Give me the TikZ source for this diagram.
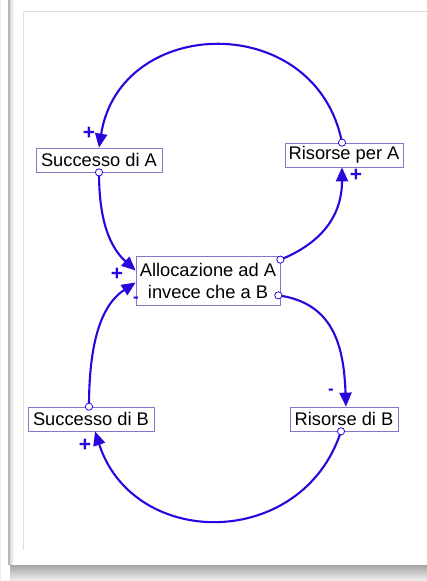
\documentclass[tikz,border=0pt]{standalone}
\usepackage{fontspec}
\setmainfont{Liberation Sans}
\usetikzlibrary{arrows.meta}
\definecolor{lnk}{RGB}{38,8,222}
\definecolor{bx}{RGB}{128,120,200}
\begin{document}
\begin{tikzpicture}[x=1pt,y=1pt,
  var/.style={draw=bx,line width=0.7pt,fill=white,inner sep=0pt,minimum height=24pt,
    font=\fontsize{18.3}{22}\selectfont,align=center},
  link/.style={draw=lnk,line width=2.1pt,-{Triangle[length=14pt,width=12pt]}},
  ring/.style={draw=lnk,line width=0.8pt,fill=white},
  sgn/.style={text=lnk,inner sep=0pt,font=\fontsize{21}{21}\selectfont\bfseries},
  sgnm/.style={text=lnk,inner sep=0pt,font=\fontsize{17}{17}\selectfont\bfseries}]
\useasboundingbox (0,0) rectangle (427,581);
% frame
\fill[white] (0,0) rectangle (427,581);
\shade[top color=gray!75,bottom color=gray!10] (10,0) rectangle (427,17);
\fill[white] (10,16) rectangle (427,581);
\fill[gray!55] (8,16) rectangle (10.5,581);
\shade[left color=gray!25,right color=white] (10.5,16) rectangle (14,581);
\draw[gray!25,line width=1pt] (23,31) -- (23,569) -- (428,569);
\draw[gray!12,line width=0.6pt] (0.5,0) -- (0.5,581);
% nodes
\node[var,minimum width=126pt] (SA) at (99,421) {Successo di A};
\node[var,minimum width=118pt] (RA) at (344,426) {Risorse per A};
\node[var,minimum width=144pt,minimum height=49pt] (AL) at (208,300.5) {Allocazione ad A\\invece che a B};
\node[var,minimum width=126pt] (SB) at (91,162) {Successo di B};
\node[var,minimum width=108pt] (RB) at (344,162) {Risorse di B};
% starting points
\coordinate (sRA) at ([xshift=-2pt]RA.north);
\coordinate (sSA) at (SA.south);
\coordinate (sAL1) at ([yshift=-4pt]AL.north east);
\coordinate (sAL2) at ([xshift=-2pt,yshift=10pt]AL.south east);
\coordinate (sRB) at ([xshift=-3pt]RB.south);
\coordinate (sSB) at ([xshift=-2pt]SB.north);
% connectors
\draw[link] (sRA) .. controls +(101:135) and +(81:135) .. (SA.north);
\draw[link] (sSA) .. controls +(270:48) and +(138:35) .. ([yshift=10pt]AL.west);
\draw[link] (sAL1) .. controls +(22:45) and +(270:48) .. ([xshift=-2pt]RA.south);
\draw[link] (sAL2) .. controls +(-8:55) and +(92:62) .. ([xshift=2pt]RB.north);
\draw[link] (sRB) .. controls +(-108:125) and +(-72:125) .. ([xshift=4pt]SB.south);
\draw[link] (sSB) .. controls +(90:62) and +(213:42) .. ([yshift=-2pt]AL.west);
% rings
\foreach \p in {sRA,sSA,sAL1,sAL2,sRB,sSB} \draw[ring] (\p) circle[radius=3.6pt];
% signs
\node[sgn] (p1) at (89,448) {+};
\node[sgn] (p2) at (356,406) {+};
\node[sgn] (p3) at (117,307) {+};
\node[sgnm] (m1) at (136,281) {-};
\node[sgnm] (m2) at (331,189) {-};
\node[sgn] (p4) at (85,136) {+};
\end{tikzpicture}
\end{document}
